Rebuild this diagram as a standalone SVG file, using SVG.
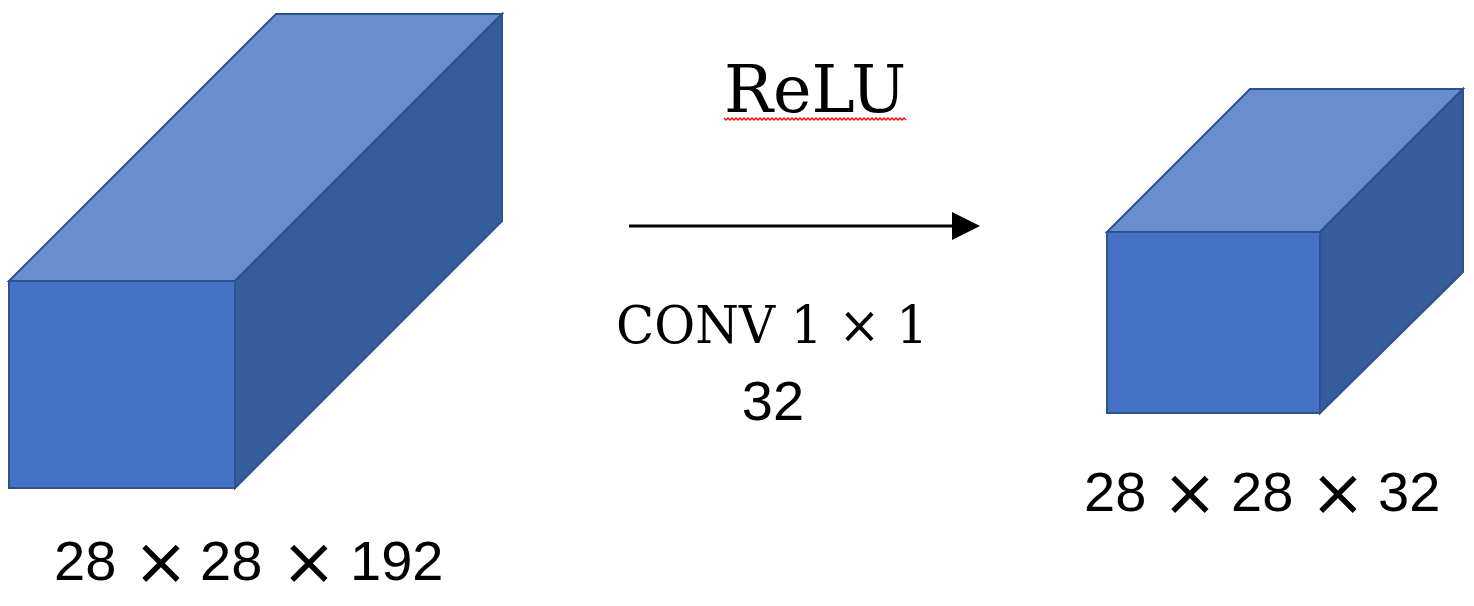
<svg xmlns="http://www.w3.org/2000/svg" width="1474" height="606" viewBox="0 0 1474 606">
<style>
.front{fill:#4472C4;stroke:#2F528F;stroke-width:2;stroke-linejoin:miter}
.top{fill:#698ECF;stroke:#2F528F;stroke-width:2;stroke-linejoin:miter}
.side{fill:#355C9B;stroke:#2F528F;stroke-width:2;stroke-linejoin:miter}
.sans{font-family:"Liberation Sans",Arial,sans-serif;fill:#000}
.times{font-family:"DejaVu Sans",sans-serif;fill:#000}
.serif{font-family:"DejaVu Serif","Liberation Serif",serif;fill:#000}
</style>
<g id="input-volume">
<polygon class="top" points="9,281 276,14 502,14 235,281"/>
<polygon class="side" points="235,281 502,14 502,221 235,488"/>
<rect class="front" x="9" y="281" width="226" height="207"/>
</g>
<g id="output-volume">
<polygon class="top" points="1107,232 1250,89 1463,89 1320,232"/>
<polygon class="side" points="1320,232 1463,89 1463,272 1320,413"/>
<rect class="front" x="1107" y="232" width="213" height="181"/>
</g>
<g id="connectors">
<line x1="629" y1="226" x2="953" y2="226" stroke="#000" stroke-width="3"/>
<polygon points="952,212 980,226 952,240" fill="#000"/>
</g>
<g id="labels">
<text class="serif" x="724" y="112" font-size="66" textLength="182" lengthAdjust="spacingAndGlyphs">ReLU</text>
<polyline fill="none" stroke="#FF0000" stroke-width="1.3" points="724,118 726,120 728,118 730,120 732,118 734,120 736,118 738,120 740,118 742,120 744,118 746,120 748,118 750,120 752,118 754,120 756,118 758,120 760,118 762,120 764,118 766,120 768,118 770,120 772,118 774,120 776,118 778,120 780,118 782,120 784,118 786,120 788,118 790,120 792,118 794,120 796,118 798,120 800,118 802,120 804,118 806,120 808,118 810,120 812,118 814,120 816,118 818,120 820,118 822,120 824,118 826,120 828,118 830,120 832,118 834,120 836,118 838,120 840,118 842,120 844,118 846,120 848,118 850,120 852,118 854,120 856,118 858,120 860,118 862,120 864,118 866,120 868,118 870,120 872,118 874,120 876,118 878,120 880,118 882,120 884,118 886,120 888,118 890,120 892,118 894,120 896,118 898,120 900,118 902,120 904,118 906,120"/>
<text class="serif" x="616" y="343" font-size="52" textLength="312" lengthAdjust="spacingAndGlyphs">CONV 1 × 1</text>
<text class="sans" x="773" y="420" font-size="56" text-anchor="middle">32</text>
<g class="sans" font-size="56">
<text x="54" y="580">28</text>
<text x="200" y="580">28</text>
<text x="350" y="580">192</text>
<text x="1084" y="511">28</text>
<text x="1231" y="511">28</text>
<text x="1378" y="511">32</text>
</g>
<g class="times" font-size="66" text-anchor="middle">
<text x="161" y="584">×</text>
<text x="309" y="584">×</text>
<text x="1190" y="515">×</text>
<text x="1338" y="515">×</text>
</g>
</g>
</svg>
